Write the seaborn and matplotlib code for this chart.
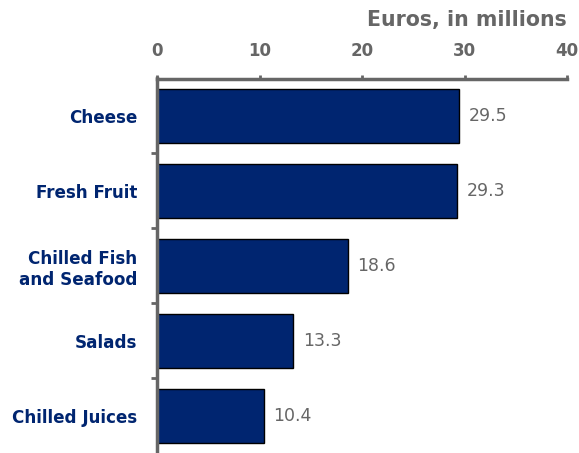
import matplotlib
matplotlib.use("Agg")
import matplotlib.pyplot as plt
import seaborn as sns
import pandas as pd

categories = ["Cheese", "Fresh Fruit", "Chilled Fish\nand Seafood", "Salads", "Chilled Juices"]
values = [29.5, 29.3, 18.6, 13.3, 10.4]
x_ticks = [0, 10, 20, 30, 40]

sns.set_theme(style="white")
plt.rcParams["font.family"] = ["DejaVu Sans"]

df = pd.DataFrame({"category": categories, "value": values})

navy = "#002570"
grey = "#666666"

fig = plt.figure(figsize=(5.79, 4.53), dpi=100)
ax = fig.add_axes([157 / 579, 0.0, (567 - 157) / 579, 1 - 78.5 / 453])

sns.barplot(data=df, x="value", y="category", color=navy, orient="h",
            width=0.72, edgecolor="black", linewidth=1.0, saturation=1, ax=ax)

ax.set_xlim(0, 40)
ax.set_ylim(len(categories) - 0.5, -0.5)
ax.xaxis.tick_top()
ax.set_xticks(x_ticks)
ax.set_xticklabels([str(t) for t in x_ticks], fontsize=12, fontweight="bold", color=grey)
ax.tick_params(axis="x", direction="out", length=3, width=2, color=grey, pad=10)
ax.set_xlabel("")
ax.set_ylabel("")

# category labels, ticks at boundaries between bars
ax.set_yticks(range(len(categories)))
ax.set_yticklabels(categories, fontsize=12.1, fontweight="bold", color=navy, ha="right")
ax.tick_params(axis="y", which="major", length=0, pad=14)
ax.set_yticks([i + 0.5 for i in range(len(categories) - 1)], minor=True)
ax.tick_params(axis="y", which="minor", direction="out", length=4, width=2, color=grey, left=True)

for side in ["right", "bottom"]:
    ax.spines[side].set_visible(False)
for side in ["top", "left"]:
    ax.spines[side].set_color(grey)
    ax.spines[side].set_linewidth(2.5)

for i, v in enumerate(values):
    ax.text(v + 0.95, i, f"{v:.1f}", va="center", ha="left", fontsize=12.5, color=grey)

fig.text(567 / 579, 1 - 20 / 453, "Euros, in millions", ha="right", va="center",
         fontsize=14.8, fontweight="bold", color=grey)

fig.savefig("out.png", dpi=100)
